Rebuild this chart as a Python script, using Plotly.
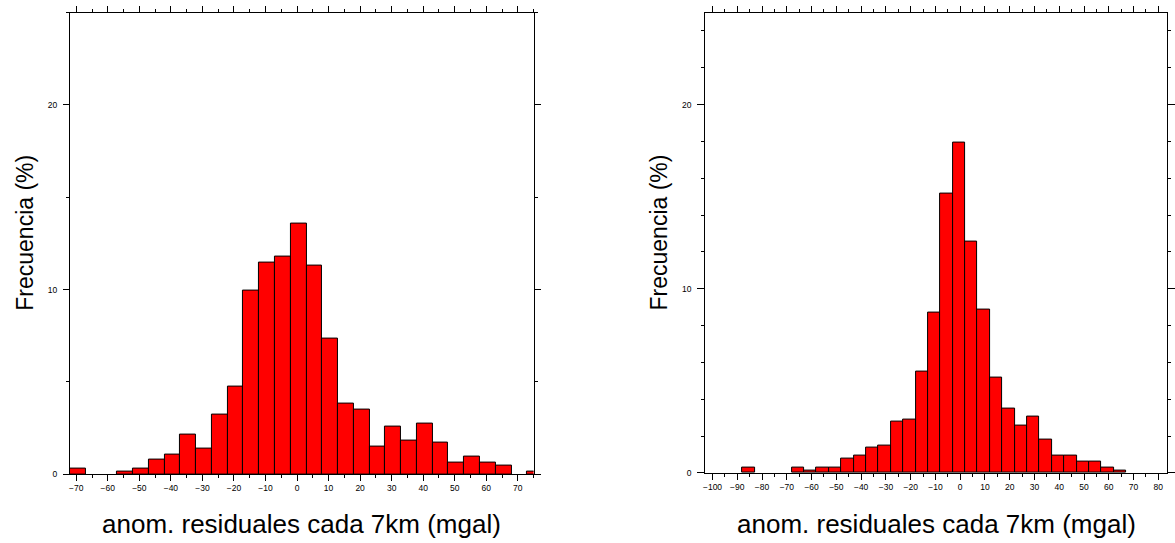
import plotly.graph_objects as go

# Histogram of residual anomalies, left panel (bin width 5 mgal)
left_centres = [-69.5, -64.5, -59.5, -54.5, -49.5, -44.5, -39.5, -34.5, -29.5, -24.5,
                -19.5, -14.5, -9.5, -4.5, 0.5, 5.5, 10.5, 15.5, 20.5, 25.5,
                30.5, 35.5, 40.5, 45.5, 50.5, 55.5, 60.5, 65.5, 70.5, 75.5]
left_freq = [0.30, 0.0, 0.0, 0.14, 0.30, 0.77, 1.07, 2.15, 1.40, 3.22,
             4.74, 9.95, 11.48, 11.77, 13.60, 11.31, 7.33, 3.83, 3.52, 1.52,
             2.59, 1.84, 2.75, 1.70, 0.61, 0.95, 0.61, 0.47, 0.0, 0.16]

# Right panel
right_centres = [-85.5, -80.5, -75.5, -70.5, -65.5, -60.5, -55.5, -50.5, -45.5, -40.5,
                 -35.5, -30.5, -25.5, -20.5, -15.5, -10.5, -5.5, -0.5, 4.5, 9.5,
                 14.5, 19.5, 24.5, 29.5, 34.5, 39.5, 44.5, 49.5, 54.5, 59.5, 64.5]
right_freq = [0.31, 0.0, 0.0, 0.0, 0.31, 0.13, 0.31, 0.31, 0.77, 0.92,
              1.37, 1.51, 2.77, 2.91, 5.50, 8.73, 15.15, 17.92, 12.56, 8.88,
              5.18, 3.50, 2.59, 3.05, 1.83, 0.92, 0.92, 0.59, 0.59, 0.31, 0.13]

bin_width = 5
left_xticks = list(range(-70, 71, 10))
right_xticks = list(range(-100, 81, 10))
y_ticks = [0, 10, 20]

x_title = "anom. residuales cada 7km (mgal)"
y_title = "Frecuencia (%)"

W, H = 1175, 543
FONT = "Liberation Sans, Arial, Helvetica, sans-serif"


def px_x(p):
    return p / W


def px_y(p):
    return 1 - p / H


def bar_trace(xs, ys, xa, ya):
    # empty bins get no outline so nothing is drawn along the baseline
    widths = [1 if v > 0 else 0 for v in ys]
    return go.Bar(x=xs, y=ys, xaxis=xa, yaxis=ya, width=bin_width,
                  marker=dict(color="#ff0000", line=dict(color="black", width=widths)),
                  showlegend=False, hoverinfo="x+y")


fig = go.Figure()
fig.add_trace(bar_trace(left_centres, left_freq, "x", "y"))
fig.add_trace(bar_trace(right_centres, right_freq, "x2", "y2"))

axis_common = dict(showline=True, linecolor="black", linewidth=1, mirror="allticks",
                   ticks="outside", tickcolor="black", tickwidth=1,
                   showgrid=False, zeroline=False,
                   tickfont=dict(family=FONT, size=8.5, color="black"))

left_dom_x = [px_x(68.3), px_x(534.3)]
right_dom_x = [px_x(706.7), px_x(1171)]
left_dom_y = [px_y(478.7), px_y(12.7)]
right_dom_y = [px_y(477.3), px_y(12.7)]

fig.update_layout(
    width=W, height=H,
    margin=dict(l=0, r=0, t=0, b=0),
    paper_bgcolor="white", plot_bgcolor="white",
    bargap=0,
    xaxis=dict(domain=left_dom_x, range=[-72, 75], anchor="y",
               tickvals=left_xticks, ticklen=6,
               minor=dict(dtick=5, tick0=0, ticklen=3, ticks="outside", tickcolor="black"),
               **axis_common),
    yaxis=dict(domain=left_dom_y, range=[0, 25], anchor="x",
               tickvals=y_ticks, ticklen=6, ticklabelstandoff=4,
               minor=dict(dtick=5, tick0=0, ticklen=3, ticks="outside", tickcolor="black"),
               **axis_common),
    xaxis2=dict(domain=right_dom_x, range=[-103, 83.5], anchor="y2",
                tickvals=right_xticks, ticklen=6,
                minor=dict(dtick=5, tick0=0, ticklen=3, ticks="outside", tickcolor="black"),
                **axis_common),
    yaxis2=dict(domain=right_dom_y, range=[0, 25], anchor="x2",
                tickvals=y_ticks, ticklen=7, ticklabelstandoff=4,
                minor=dict(dtick=2, tick0=0, ticklen=3, ticks="outside", tickcolor="black"),
                **axis_common),
)

xt_font = dict(family=FONT, size=26, color="black")
yt_font = dict(family=FONT, size=23, color="black")
annotations = [
    dict(text=x_title, x=(left_dom_x[0] + left_dom_x[1]) / 2, y=px_y(529), font=xt_font),
    dict(text=x_title, x=(right_dom_x[0] + right_dom_x[1]) / 2, y=px_y(529), font=xt_font),
    dict(text=y_title, x=px_x(23), y=px_y(235), textangle=-90, font=yt_font),
    dict(text=y_title, x=px_x(660), y=px_y(235), textangle=-90, font=yt_font),
]
for a in annotations:
    fig.add_annotation(xref="paper", yref="paper", showarrow=False,
                       xanchor="center", yanchor="middle", **a)

fig.write_html("out.html")
